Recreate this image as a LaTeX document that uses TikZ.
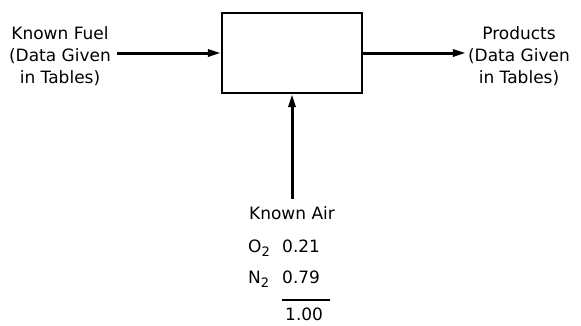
\documentclass[tikz,border=0pt]{standalone}
\usepackage{fontspec}
\setmainfont{DejaVu Sans}
\usetikzlibrary{arrows.meta}
\newcommand{\lowsub}[1]{\raisebox{-4pt}{\fontsize{13}{13}\selectfont #1}}
\begin{document}
\begin{tikzpicture}[x=1pt,y=-1pt,
  lbl/.style={font=\fontsize{17}{22}\selectfont, inner sep=0pt},
  flow/.style={line width=3pt, -{Triangle[length=13pt,width=7pt]}},
  boxst/.style={draw, line width=2.2pt, minimum width=140pt, minimum height=80pt, inner sep=0pt}]
\useasboundingbox (0,0) rectangle (581,325);
\node[boxst] (box) at (292,53) {};
\node[lbl, align=center] (fuel) at (60,56) {Known Fuel\\(Data Given\\in Tables)};
\node[lbl, align=center] (prod) at (519,56) {Products\\(Data Given\\in Tables)};
\node[lbl] (air) at (292,213) {Known Air};
\node[lbl, anchor=base west] (o2) at (248,252) {O\lowsub{2}};
\node[lbl, anchor=base west] (o2v) at (282,252) {0.21};
\node[lbl, anchor=base west] (n2) at (248,283) {N\lowsub{2}};
\node[lbl, anchor=base west] (n2v) at (282,283) {0.79};
\node[lbl, anchor=base west] (tot) at (285,320) {1.00};
\draw[flow] ([xshift=6pt]fuel.east |- box.west) -- (box.west);
\draw[flow] (box.east) -- ([xshift=-2pt]prod.west |- box.east);
\draw[flow] ([yshift=7pt]air.north) -- (box.south);
\draw[line width=1.2pt] (n2v.south west |- 0,300) -- (330,300);
\end{tikzpicture}
\end{document}
